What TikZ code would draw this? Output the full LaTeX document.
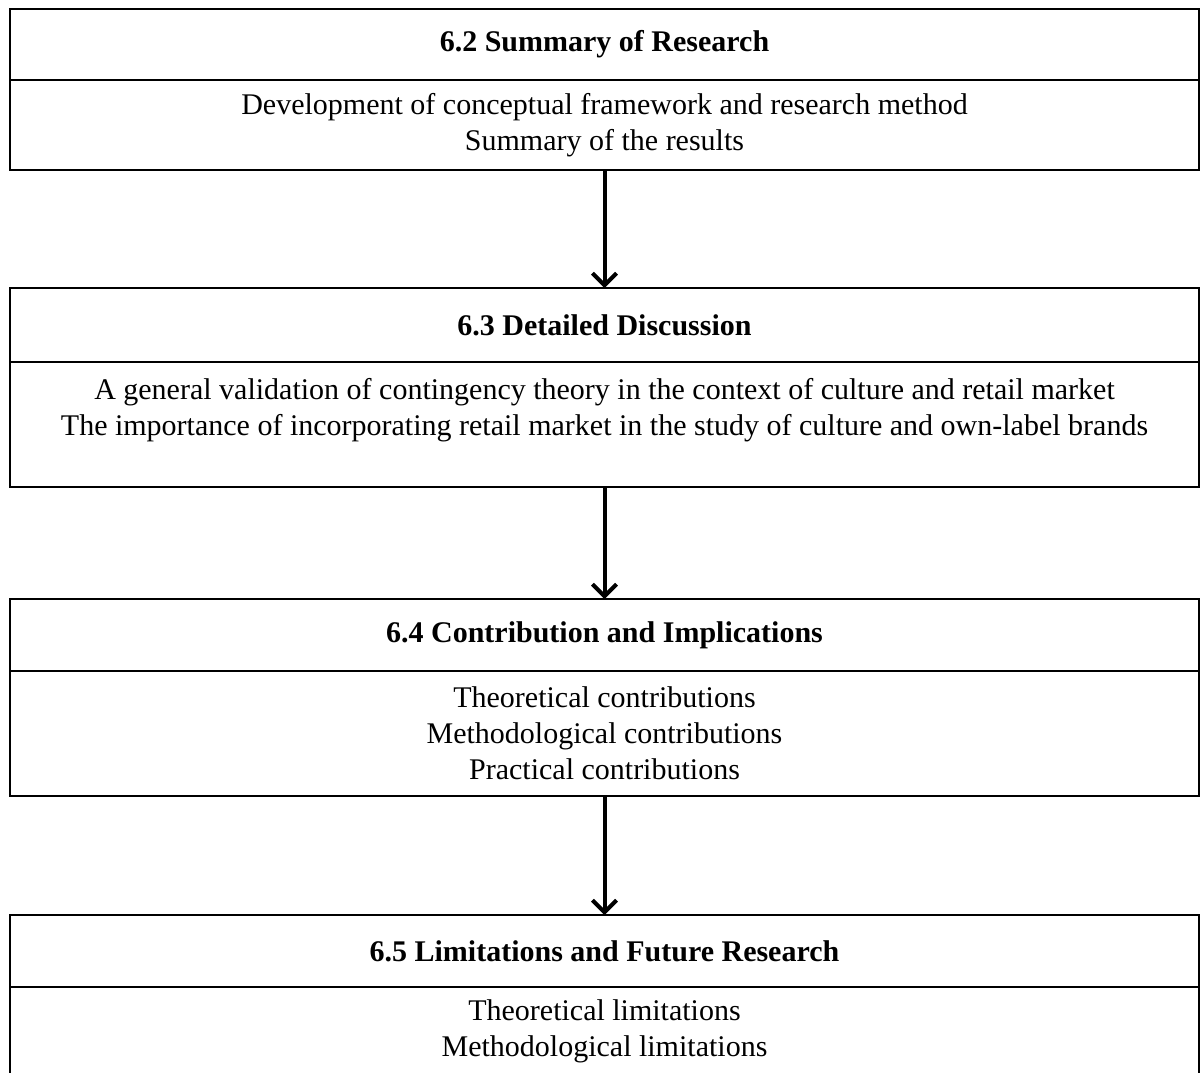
\documentclass[tikz,border=0pt]{standalone}
\usepackage{fontspec}
\setmainfont{Liberation Serif}
\usetikzlibrary{arrows.meta}
\tikzset{
  head/.style={draw, line width=1pt, minimum width=594.5pt, minimum height=#1,
    inner sep=0pt, outer sep=0pt, font=\fontsize{15}{18}\selectfont\bfseries},
  body/.style={draw, line width=1pt, minimum width=594.5pt, minimum height=#1,
    inner sep=0pt, outer sep=0pt, align=center, font=\fontsize{15}{18}\selectfont},
  flow/.style={line width=2pt, -{Straight Barb[length=6pt,width=12pt]}}
}
\begin{document}
\begin{tikzpicture}[x=0.5pt,y=-0.5pt]
  \useasboundingbox (0,0) rectangle (1200,1072);
  \clip (0,0) rectangle (1200,1072);
  % summary
  \node[head=35.5pt] (sumhead) at (604.5,44.5) {6.2 Summary of Research};
  \node[body=45pt] (sumbody) at (604.5,125) {Development of conceptual framework and research method\\Summary of the results};
  % discussion
  \node[head=37pt] (dishead) at (604.5,325) {6.3 Detailed Discussion};
  \node[body=62.5pt] (disbody) at (604.5,424.5) {A general validation of contingency theory in the context of culture and retail market\\The importance of incorporating retail market in the study of culture and own-label brands\\\mbox{}};
  % contribution
  \node[head=36pt] (conhead) at (604.5,635) {6.4 Contribution and Implications};
  \node[body=62.5pt] (conbody) at (604.5,733.5) {Theoretical contributions\\Methodological contributions\\Practical contributions};
  % limitations
  \node[head=36pt] (limhead) at (604.5,951) {6.5 Limitations and Future Research};
  \node[body=44.5pt] (limbody) at (604.5,1031.5) {Theoretical limitations\\Methodological limitations};
  \draw[flow] (sumbody) -- (dishead);
  \draw[flow] (disbody) -- (conhead);
  \draw[flow] (conbody) -- (limhead);
\end{tikzpicture}
\end{document}
